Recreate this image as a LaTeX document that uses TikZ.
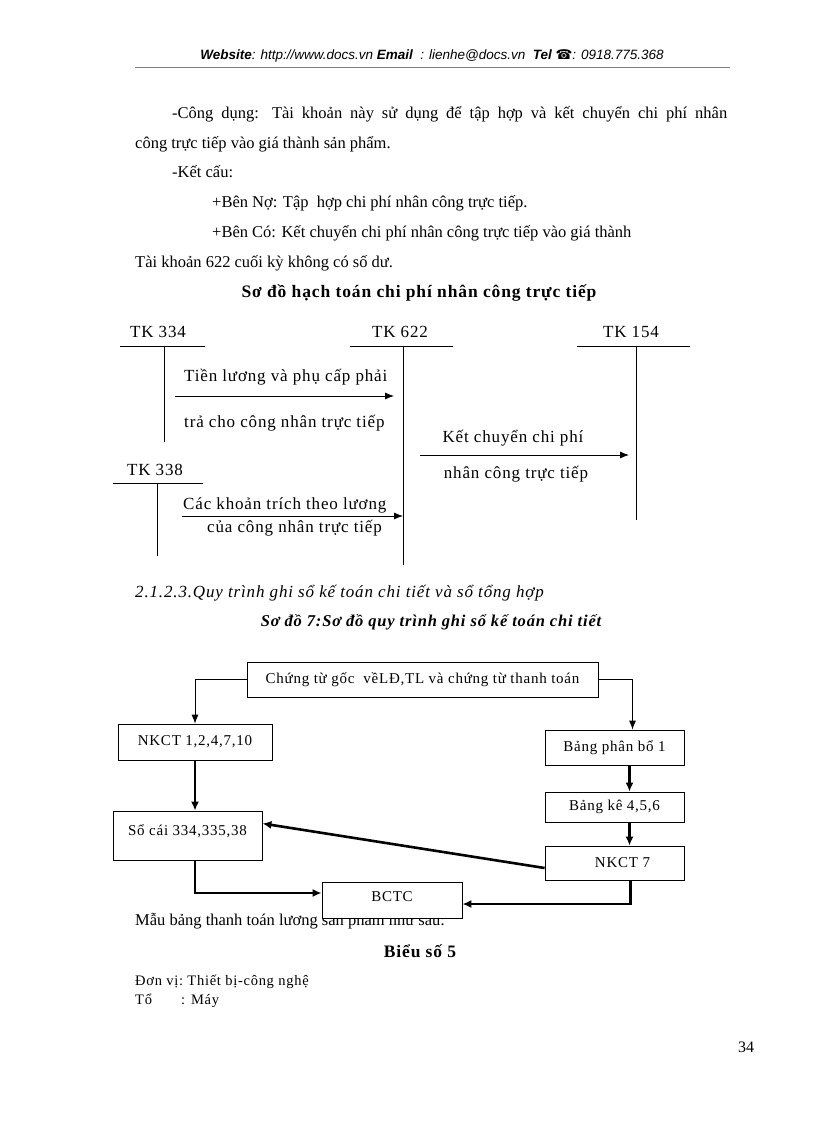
\documentclass[tikz,border=0pt]{standalone}
\usepackage{fontspec}
\setmainfont{Liberation Serif}
\newfontfamily\hdrfont{Liberation Sans}
\newfontfamily\symfont{DejaVu Sans}
\newfontfamily\wide[LetterSpace=5]{Liberation Serif}
\usepackage{tikz}
\usetikzlibrary{arrows.meta, positioning, calc}

\begin{document}
\begin{tikzpicture}[
    x=1pt, y=-1pt,
    body/.style={font=\fontsize{16.5}{19}\selectfont, inner sep=0pt, anchor=west},
    heading/.style={font=\wide\fontsize{17.5}{20}\selectfont\bfseries, inner sep=0pt},
    tlabel/.style={font=\wide\fontsize{17}{20}\selectfont, inner sep=0pt},
    tline/.style={line width=0.8pt},
    box/.style={rectangle, draw, line width=0.8pt, fill=white, inner sep=2pt, font=\wide\fontsize{15}{18}\selectfont},
    arrow/.style={-{Latex[length=9pt, width=7pt]}, line width=0.8pt},
    boldarrow/.style={-{Latex[length=9pt, width=8pt]}, line width=2.6pt}
]
\useasboundingbox (0,0) rectangle (816,1123);

\node[inner sep=0pt, font=\hdrfont\fontsize{13.5}{16}\selectfont\itshape] (hdr) at (432,56)
    {\bfseries Website\mdseries: http://www.docs.vn \bfseries Email\mdseries\ \ : lienhe@docs.vn\ \ \bfseries Tel {\symfont\upshape ☎}\mdseries: 0918.775.368};
\draw[gray, line width=0.6pt] (135,67) -- (730,67);

\node[body] (cd) at (172,114) {\makebox[555pt][s]{-Công dụng: Tài khoản này sử dụng để tập hợp và kết chuyển chi phí nhân}};
\node[body] (cd2) at (135,144) {công trực tiếp vào giá thành sản phẩm.};
\node[body] (kc) at (172,172) {-Kết cấu:};
\node[body] (no) at (212,203) {+Bên Nợ: Tập\ \ hợp chi phí nhân\ công trực tiếp.};
\node[body] (co) at (212,233) {+Bên Có: Kết chuyển\ chi phí nhân\ công trực tiếp vào\ giá thành};
\node[body] (du) at (135,263) {Tài khoản 622 cuối kỳ không có số dư.};
\node[heading] (title1) at (419,293) {Sơ đồ hạch toán chi phí nhân\ công trực tiếp};

\node[tlabel] (tk334) at (158,332) {TK 334};
\node[tlabel] (tk622) at (400,332) {TK 622};
\node[tlabel] (tk154) at (631,332) {TK 154};
\node[tlabel] (tk338) at (155,470) {TK 338};
\draw[tline] (120,346) -- (205,346) (164,346) -- (164,442);
\draw[tline] (350,346) -- (453,346) (403,346) -- (403,565);
\draw[tline] (577,346) -- (690,346) (636,346) -- (636,520);
\draw[tline] (113,483) -- (203,483) (157,483) -- (157,556);

\coordinate (luong) at (175,396);
\coordinate (luong622) at (394,396);
\coordinate (trich) at (182,516);
\coordinate (trich622) at (403,516);
\coordinate (kchuyen) at (420,455);
\coordinate (kchuyen154) at (629,455);
\draw[arrow] (luong) -- (luong622);
\draw[arrow] (trich) -- (trich622);
\draw[arrow] (kchuyen) -- (kchuyen154);
\node[tlabel, anchor=west] (luongA) at (184,377) {Tiền lương và phụ cấp phải};
\node[tlabel, anchor=west] (luongB) at (184,423) {trả cho công nhân trực tiếp};
\node[tlabel, anchor=west] (trichA) at (183,505) {Các khoản trích theo lương};
\node[tlabel, anchor=west] (trichB) at (207,528) {của công nhân trực tiếp};
\node[tlabel] (kchuyenA) at (513,438) {Kết chuyển\ chi\ phí};
\node[tlabel] (kchuyenB) at (516,474) {nhân\ công trực tiếp};

\node[body, font=\wide\fontsize{17}{20}\selectfont\itshape] (sec) at (135,593) {2.1.2.3.Quy trình ghi sổ kế toán chi tiết và sổ tổng hợp};
\node[heading, font=\wide\fontsize{16.5}{20}\selectfont\bfseries\itshape] (title2) at (431,622) {Sơ đồ 7:Sơ đồ quy trình ghi sổ kế toán chi tiết};

\node[body] (mau) at (135,921) {Mẫu bảng thanh toán lương sản phẩm như sau:};

\node[box, minimum width=351pt, minimum height=35pt] (goc) at (422.5,679.5) {Chứng từ gốc\ \ vềLĐ,TL\ và chứng từ thanh toán\hspace{8pt}};
\node[box, minimum width=154pt, minimum height=36pt] (nkct) at (195,742) {NKCT 1,2,4,7,10};
\node[box, minimum width=139pt, minimum height=35pt] (phanbo) at (614.5,747.5) {Bảng phân bổ 1\hspace{14pt}};
\node[box, minimum width=139pt, minimum height=30pt] (bangke) at (614.5,807) {Bảng kê 4,5,6\hspace{24pt}};
\node[box, minimum width=149pt, minimum height=49pt] (socai) at (187.5,835.5) {\raisebox{10pt}{Sổ cái 334,335,38}\hspace{8pt}};
\node[box, minimum width=139pt, minimum height=34pt] (nkct7) at (614.5,863) {\hspace{16pt}NKCT 7};
\node[box, minimum width=140pt, minimum height=36pt] (bctc) at (392,900) {\raisebox{7pt}{BCTC}};

\draw[arrow] (goc.west) -| (nkct.north);
\draw[arrow] (goc.east) -| ([xshift=18pt]phanbo.north);
\draw[boldarrow] (nkct.south) -- (nkct.south |- socai.north);
\draw[boldarrow] ([xshift=15pt]phanbo.south) -- ([xshift=15pt]bangke.north);
\draw[boldarrow] ([xshift=15pt]bangke.south) -- ([xshift=15pt]nkct7.north);
\draw[boldarrow] ([yshift=-5pt]nkct7.west) -- ([yshift=12pt]socai.east);
\draw[boldarrow] ([xshift=7.5pt]socai.south) |- ([yshift=7pt]bctc.west);
\draw[boldarrow] ([xshift=16pt]nkct7.south) |- ([yshift=-4pt]bctc.east);

\node[heading] (bieu) at (420,951) {Biểu số 5};
\node[body, anchor=base west, font=\wide\fontsize{14.5}{16}\selectfont] (donvi) at (135,985) {Đơn vị:\ Thiết\ bị-công nghệ};
\node[body, anchor=base west, font=\wide\fontsize{14.5}{16}\selectfont] (to) at (135,1004) {Tổ};
\node[body, anchor=base west, font=\wide\fontsize{14.5}{16}\selectfont] (may) at (181,1004) {: Máy};
\node[body, font=\fontsize{16}{19}\selectfont] (trang) at (738,1047) {34};
\end{tikzpicture}
\end{document}
